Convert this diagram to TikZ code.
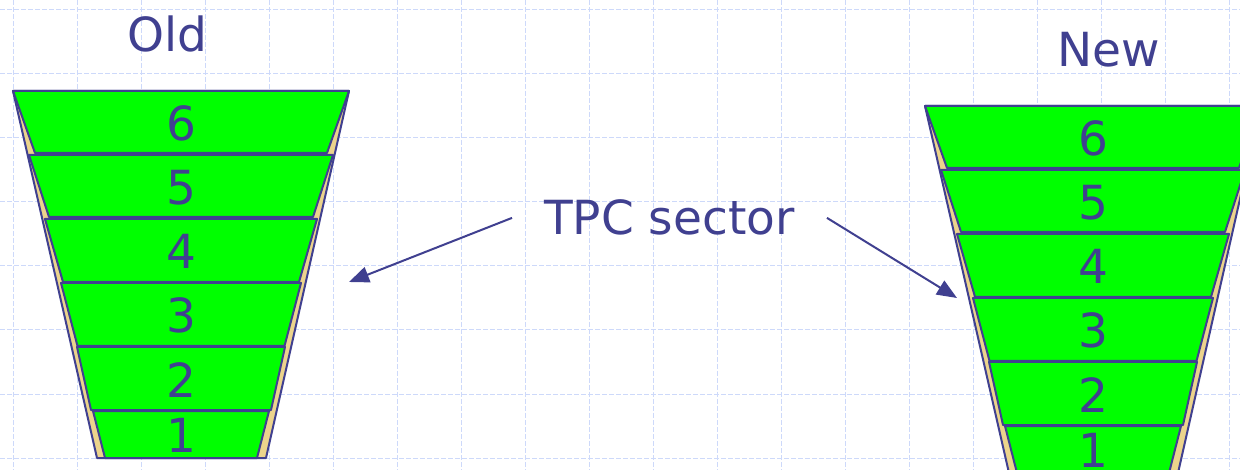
\documentclass[tikz,border=0pt]{standalone}
\usepackage{fontspec}
\setmainfont{DejaVu Sans}
\usetikzlibrary{arrows.meta}

\definecolor{ink}{RGB}{64,64,144}
\definecolor{gridblue}{RGB}{205,217,250}
\definecolor{padtan}{RGB}{236,212,140}
\definecolor{rowgreen}{RGB}{0,255,0}

\tikzset{
  gridline/.style={draw=gridblue, line width=1pt, dash pattern=on 5pt off 2pt},
  sectoredge/.style={draw=ink, line width=2pt, line join=round},
  envelope/.style={sectoredge, fill=padtan},
  rowpad/.style={sectoredge, fill=rowgreen},
  bigtext/.style={text=ink, font=\fontsize{47}{47}\selectfont, inner sep=0pt},
  rowlabel/.style={bigtext, anchor=base},
  caption/.style={bigtext, anchor=base},
  pointer/.style={draw=ink, line width=2pt, -{Triangle[length=20pt,width=16pt]}},
}

% One TPC sector: tan envelope with six green pad rows, centred on x=181.
% #1 is the prefix for the row label names.
\newcommand\tpcsector[1]{%
  \draw[envelope] (13,91) -- (349,91) -- (266,458) -- (97,458) -- cycle;
  \foreach \yt/\ht/\yb/\hb/\yl/\lab in {
      91/168/153/146/141/6,
      155/152/217/132/205/5,
      219/136/282/118/269/4,
      283/120/346/103.5/333/3,
      347/104/410/90/397/2,
      411/88/458/76/452/1}{
    \draw[rowpad] ({181-\ht},\yt) -- ({181+\ht},\yt) -- ({181+\hb},\yb) -- ({181-\hb},\yb) -- cycle;
    \node[rowlabel] (#1\lab) at (181,\yl) {\lab};
  }%
}

\begin{document}
\begin{tikzpicture}[x=1pt,y=-1pt]
  \useasboundingbox (0,0) rectangle (1240,470);
  \clip (0,0) rectangle (1240,470);
  \fill[white] (0,0) rectangle (1240,470);

  % background grid
  \foreach \gx in {0,...,19}
    \draw[gridline] ({13+64*\gx},0) -- ({13+64*\gx},470);
  \foreach \gy in {0,...,7}
    \draw[gridline] (0,{10+64*\gy}) -- (1240,{10+64*\gy});

  % old and new sectors
  \tpcsector{old}
  \begin{scope}[shift={(912,15)}]
    \tpcsector{new}
  \end{scope}

  % captions
  \node[caption] (oldtitle) at (167.5,52) {Old};
  \node[caption] (newtitle) at (1109,67) {New};
  \node[caption, inner xsep=32pt] (tpc) at (669.5,235) {TPC sector};

  % pointers from the label to both sectors
  \coordinate (oldtip) at (349,282);
  \coordinate (newtip) at (957,298);
  \draw[pointer] (tpc.west) -- (oldtip);
  \draw[pointer] (tpc.east) -- (newtip);
\end{tikzpicture}
\end{document}
